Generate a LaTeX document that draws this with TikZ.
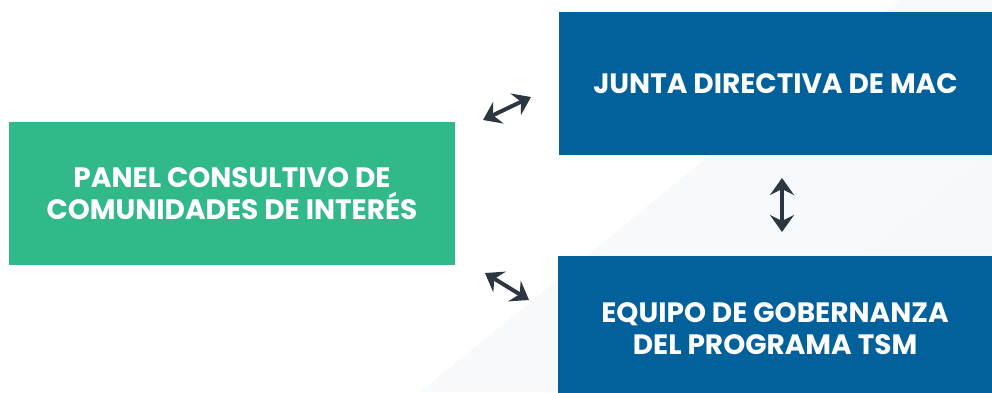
\documentclass[tikz,border=0pt]{standalone}
\usepackage{fontspec}
\setsansfont{Poppins}
\usetikzlibrary{arrows.meta}
\definecolor{panelgreen}{RGB}{49,185,138}
\definecolor{macblue}{RGB}{2,96,155}
\definecolor{arrowgray}{RGB}{45,55,66}
\definecolor{bgblue}{RGB}{240,246,251}

\begin{document}
\begin{tikzpicture}
[x=1pt, y=-1pt,
 every node/.style={inner sep=0pt},
 box/.style={rectangle, text=white, align=center, font=\sffamily\bfseries\fontsize{28}{32}\selectfont},
 link/.style={line width=4pt, color=arrowgray, {Stealth[length=17pt, width=24pt, inset=6pt]}-{Stealth[length=17pt, width=24pt, inset=6pt]}}]
\useasboundingbox (0, 0) rectangle (992, 392);
% background
\fill [white] (0, 0) rectangle (992, 392);
\fill [bgblue!60] (420, 392) -- (900, 0) -- (992, 0) -- (992, 392) -- cycle;
\fill [bgblue!70] (700, 392) -- (992, 150) -- (992, 392) -- cycle;
% boxes
\node (panel) [box, fill=panelgreen, minimum width=446pt, minimum height=143pt] at (232, 193.5) {PANEL CONSULTIVO DE\\COMUNIDADES DE INTERÉS};
\node (junta) [box, fill=macblue, minimum width=433pt, minimum height=143pt] at (775.5, 83.5) {JUNTA DIRECTIVA DE MAC};
\node (equipo) [box, fill=macblue, minimum width=434pt, minimum height=146pt] at (775, 329) {EQUIPO DE GOBERNANZA\\DEL PROGRAMA TSM};
% arrow ends
\coordinate (p1) at (483, 120);
\coordinate (j1) at (531, 97);
\coordinate (p2) at (485, 273);
\coordinate (e2) at (529, 300);
\coordinate (j3) at (782, 178);
\coordinate (e3) at (782, 232);
\draw [link] (p1) -- (j1);
\draw [link] (p2) -- (e2);
\draw [link] (j3) -- (e3);
\end{tikzpicture}
\end{document}
